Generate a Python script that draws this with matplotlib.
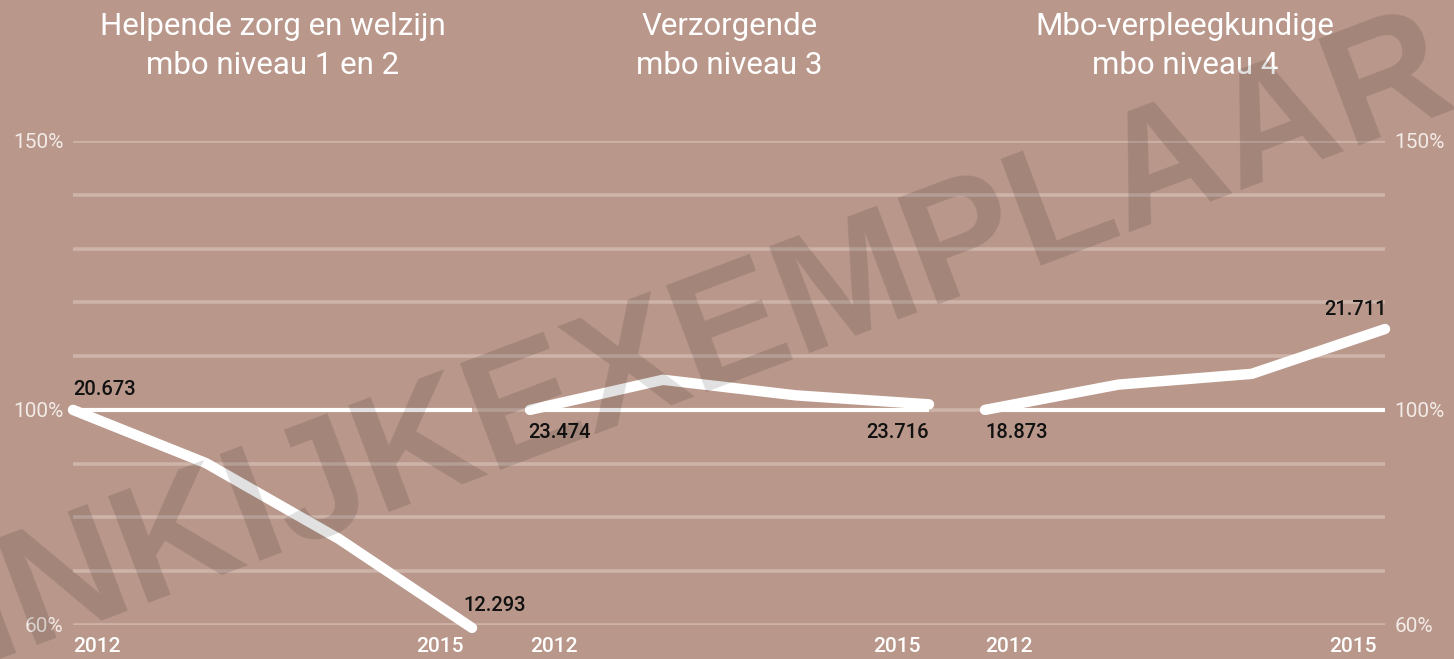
import matplotlib
matplotlib.use("Agg")
import matplotlib.pyplot as plt

# ---- data ----
years = [2012, 2013, 2014, 2015]
titles = [("Helpende zorg en welzijn", "mbo niveau 1 en 2"),
          ("Verzorgende", "mbo niveau 3"),
          ("Mbo-verpleegkundige", "mbo niveau 4")]
helpende = [100.0, 90.1, 76.0, 59.46]
verzorgende = [100.0, 105.6, 102.7, 101.03]
verpleegkundige = [100.0, 104.7, 106.7, 115.04]
start_labels = ["20.673", "23.474", "18.873"]
end_labels = ["12.293", "23.716", "21.711"]
grid_values = [60, 70, 80, 90, 100, 110, 120, 130, 140, 150]
tick_values = [60, 100, 150]
tick_labels = ["60%", "100%", "150%"]
watermark = "INKIJKEXEMPLAAR"

series = [helpende, verzorgende, verpleegkundige]

# ---- style ----
BG = "#B9978A"
GRID = "#CDB3A8"
W, H = 1454, 659
FONT = "Roboto"

fig = plt.figure(figsize=(W / 100, H / 100), dpi=100, facecolor=BG)

def fx(px):
    return px / W

def fy(py):
    return 1 - py / H

y_top, y_bot = 141, 625
bottom = fy(y_bot)
height = fy(y_top) - bottom

# background axes with gridlines and y tick labels
bg = fig.add_axes([fx(73), bottom, fx(1385 - 73), height])
bg.set_facecolor("none")
bg.set_xlim(0, 1)
bg.set_ylim(60, 150)
for v in grid_values:
    bg.axhline(v, color=GRID, lw=2.6, zorder=1)
bg.set_xticks([])
bg.set_yticks(tick_values)
bg.set_yticklabels(tick_labels)
bg.tick_params(axis="y", length=0, pad=7, labelsize=15, labelcolor="#F3EBE7",
               labelleft=True, labelright=True)
for lab in bg.get_yticklabels() + bg.yaxis.get_ticklabels(which="major"):
    lab.set_fontfamily(FONT)
for t in bg.yaxis.get_major_ticks():
    t.label2.set_fontfamily(FONT)
    t.label1.set_fontfamily(FONT)
for s in bg.spines.values():
    s.set_visible(False)

panel_left = [73, 530, 985]
panel_width = [399, 399, 400]

for i in range(3):
    ax = fig.add_axes([fx(panel_left[i]), bottom, fx(panel_width[i]), height])
    ax.set_facecolor("none")
    ax.set_xlim(years[0], years[-1])
    ax.set_ylim(60, 150)
    ax.axis("off")
    ax.axhline(100, color="white", lw=3, zorder=2)
    vals = series[i]
    ax.plot(years, vals, color="white", lw=7.5, solid_capstyle="round",
            solid_joinstyle="round", clip_on=False, zorder=3)

    # year labels
    ax.annotate(str(years[0]), xy=(years[0], 0), xycoords=("data", "axes fraction"),
                xytext=(0, -21), textcoords="offset pixels", ha="left", va="center",
                fontsize=15, color="white", fontweight="medium", family=FONT,
                annotation_clip=False)
    ax.annotate(str(years[-1]), xy=(years[-1], 0), xycoords=("data", "axes fraction"),
                xytext=(-8, -21), textcoords="offset pixels", ha="right", va="center",
                fontsize=15, color="white", fontweight="medium", family=FONT,
                annotation_clip=False)

    # value labels
    lab_kw = dict(textcoords="offset pixels", va="center", fontsize=14.5,
                  color="#111111", family=FONT, fontweight="medium",
                  annotation_clip=False)
    if i == 0:
        ax.annotate(start_labels[i], xy=(years[0], vals[0]), xytext=(0, 20), ha="left", **lab_kw)
        ax.annotate(end_labels[i], xy=(years[-1], vals[-1]), xytext=(-9, 22), ha="left", **lab_kw)
    elif i == 1:
        ax.annotate(start_labels[i], xy=(years[0], vals[0]), xytext=(-2, -23), ha="left", **lab_kw)
        ax.annotate(end_labels[i], xy=(years[-1], vals[-1]), xytext=(0, -28), ha="right", **lab_kw)
    else:
        ax.annotate(start_labels[i], xy=(years[0], vals[0]), xytext=(0, -23), ha="left", **lab_kw)
        ax.annotate(end_labels[i], xy=(years[-1], vals[-1]), xytext=(2, 20), ha="right", **lab_kw)

    # titles
    cx = panel_left[i] + panel_width[i] / 2
    fig.text(fx(cx), fy(35), titles[i][0], ha="center", va="baseline",
             fontsize=22.5, color="white", family=FONT)
    fig.text(fx(cx), fy(74), titles[i][1], ha="center", va="baseline",
             fontsize=22.5, color="white", family=FONT)

# watermark
fig.text(fx(721), fy(382), watermark, rotation=20.7, rotation_mode="anchor",
         ha="center", va="baseline", fontsize=119, fontweight="bold",
         family="Liberation Sans", color="black", alpha=0.12, zorder=10)

fig.savefig("out.png", dpi=100, facecolor=BG)
